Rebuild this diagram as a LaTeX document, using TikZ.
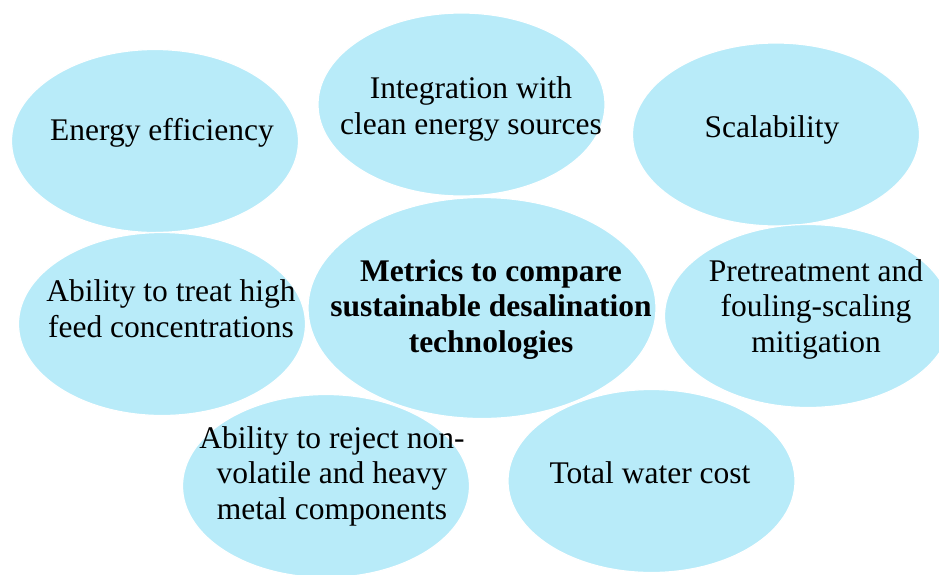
\documentclass[tikz,border=0pt]{standalone}
\usepackage{fontspec}
\setmainfont{Liberation Serif}
\usetikzlibrary{shapes.geometric}
\definecolor{bubble}{RGB}{184,235,249}
\tikzset{
  bubble/.style={ellipse, fill=bubble, draw=white, line width=1.2pt, inner sep=0pt,
    minimum width=287pt, minimum height=183pt},
  label/.style={align=center, anchor=base, inner sep=0pt, font=\fontsize{31.5}{35.5}\selectfont},
}
\begin{document}
\begin{tikzpicture}[x=1pt,y=-1pt]
\useasboundingbox (0,0) rectangle (939,574);
\node[bubble] (ee) at (155,141) {};
\node[bubble] (ie) at (461.5,104.5) {};
\node[bubble] (sc) at (776,134.5) {};
\node[bubble] (th) at (162,324) {};
\node[bubble] (pt) at (808,316) {};
\node[bubble] (rj) at (326,486) {};
\node[bubble] (tw) at (651.5,481) {};
\node[bubble, minimum width=348pt, minimum height=221pt] (mc) at (482,308) {};
\node[label] (eet) at (162,140) {Energy efficiency};
\node[label] (iet) at (471,134) {Integration with\\clean energy sources};
\node[label] (sct) at (772,137) {Scalability};
\node[label] (tht) at (171,337) {Ability to treat high\\feed concentrations};
\node[label] (mct) at (491,352) {\bfseries Metrics to compare\\\bfseries sustainable desalination\\\bfseries technologies};
\node[label] (ptt) at (816,352) {Pretreatment and\\fouling-scaling\\mitigation};
\node[label] (rjt) at (332,519) {Ability to reject non-\\volatile and heavy\\metal components};
\node[label] (twt) at (650,483) {Total water cost};
\end{tikzpicture}
\end{document}
